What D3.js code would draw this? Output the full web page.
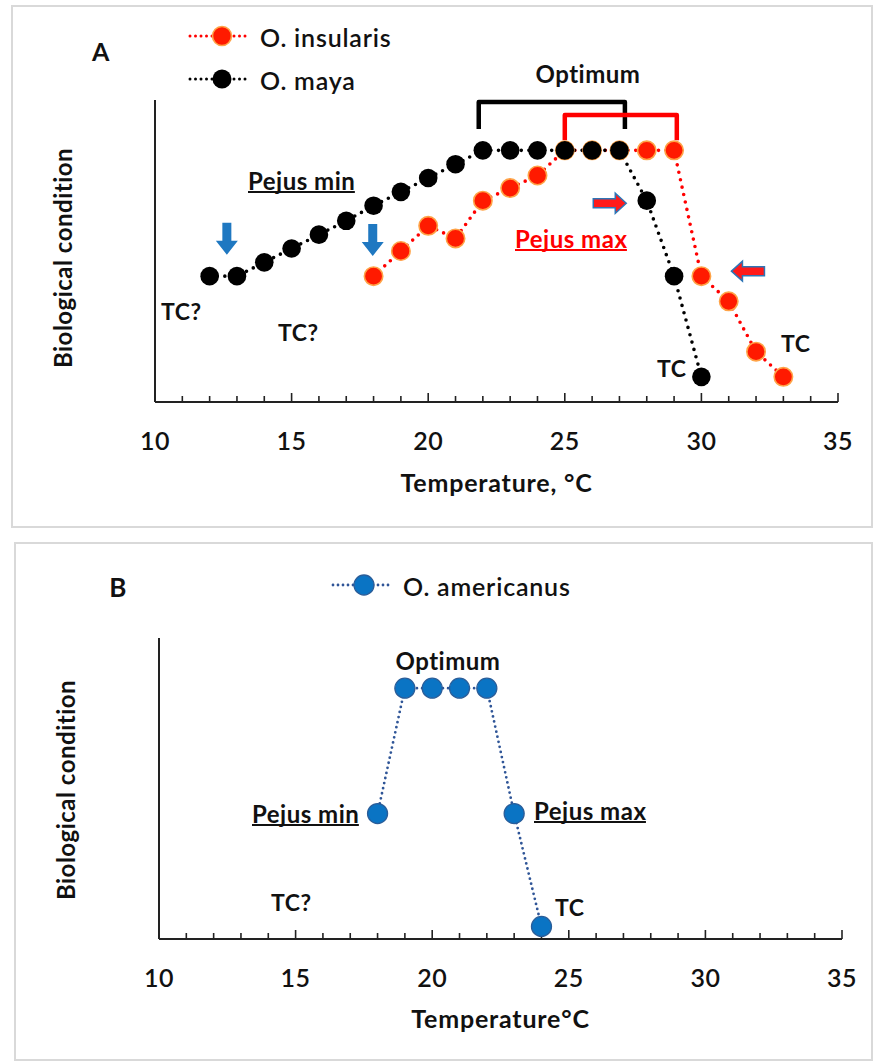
<!DOCTYPE html>
<html>
<head>
<meta charset="utf-8">
<script src="https://cdn.jsdelivr.net/npm/d3@7"></script>
<style>
  html, body { margin: 0; padding: 0; background: #fff; }
  svg { display: block; }
  text { font-family: Lato, "Open Sans", sans-serif; fill: #111; letter-spacing: 0.5px; }
</style>
</head>
<body>
<svg id="fig" width="874" height="1062"></svg>
<script>
// ---- Panel A: O. insularis and O. maya ----
const mayaTemp = [12, 13, 14, 15, 16, 17, 18, 19, 20, 21, 22, 23, 24, 25, 26, 27, 28, 29, 30];
const mayaCond = [5, 5, 5.55, 6.1, 6.65, 7.2, 7.8, 8.35, 8.9, 9.45, 10, 10, 10, 10, 10, 10, 8, 5, 1];

const insTemp = [18, 19, 20, 21, 22, 23, 24, 25, 26, 27, 28, 29, 30, 31, 32, 33];
const insCond = [5, 6, 7, 6.5, 8, 8.5, 9, 10, 10, 10, 10, 10, 5, 4, 2, 1];

// ---- Panel B: O. americanus ----
const amerTemp = [18, 19, 20, 21, 22, 23, 24];
const amerCond = [5, 10, 10, 10, 10, 5, 0.5];

// Shared axis settings
const xTickLabels = [10, 15, 20, 25, 30, 35];
const xMinorTicks = [10, 11, 12, 13, 14, 15, 16, 17, 18, 19, 20, 21, 22, 23, 24, 25, 26, 27, 28, 29, 30, 31, 32, 33, 34, 35];
const xDomain = [10, 35];
const yDomain = [0, 12];

// Optimum brackets in panel A: [start temp, end temp, top level, foot level]
const bracketMaya = [21.85, 27.2, 11.92, 10.85];
const bracketIns = [25.0, 29.1, 11.4, 10.4];

// Arrow markers in panel A: tip temperature and level
const downArrows = [[12.63, 5.85], [17.97, 5.8]];
const rightArrow = [27.25, 7.9];
const leftArrow = [31.1, 5.2];

const svg = d3.select("#fig");

const BLUE_ARROW = "#1f78c1";

// Soft edge for the black markers
const defs = svg.append("defs");
defs.append("filter").attr("id", "soft")
  .attr("x", "-30%").attr("y", "-30%").attr("width", "160%").attr("height", "160%")
  .append("feGaussianBlur").attr("stdDeviation", 0.7);

function frame(x, y, w, h) {
  svg.append("rect")
    .attr("x", x).attr("y", y).attr("width", w).attr("height", h)
    .attr("fill", "none").attr("stroke", "#d9d9d9").attr("stroke-width", 2);
}

function drawAxes(g, x, y, top, xTitle, titleOffset) {
  const [x0, x1] = x.range();
  const yb = y.range()[0];
  g.append("line").attr("x1", x0).attr("x2", x0).attr("y1", top).attr("y2", yb)
    .attr("stroke", "#222").attr("stroke-width", 2);
  g.append("line").attr("x1", x0).attr("x2", x1).attr("y1", yb).attr("y2", yb)
    .attr("stroke", "#222").attr("stroke-width", 2);
  g.selectAll("line.tick").data(xMinorTicks).join("line").attr("class", "tick")
    .attr("x1", d => x(d)).attr("x2", d => x(d))
    .attr("y1", yb).attr("y2", d => yb - (d % 5 === 0 ? 9 : 6))
    .attr("stroke", "#222").attr("stroke-width", 1.6);
  g.selectAll("text.tl").data(xTickLabels).join("text").attr("class", "tl")
    .attr("x", d => x(d)).attr("y", yb + 38)
    .attr("text-anchor", "middle").attr("dominant-baseline", "central")
    .attr("font-size", 25).attr("font-weight", 600)
    .text(d => d);
  g.append("text").attr("x", (x0 + x1) / 2).attr("y", yb + titleOffset)
    .attr("text-anchor", "middle").attr("dominant-baseline", "central")
    .attr("font-size", 25).attr("font-weight", 700).style("letter-spacing", "0.8px")
    .text(xTitle);
}

function yTitle(g, cx, cy) {
  g.append("text").attr("transform", `translate(${cx},${cy}) rotate(-90)`)
    .attr("text-anchor", "middle").attr("dominant-baseline", "central")
    .attr("font-size", 24).attr("font-weight", 700)
    .text("Biological condition");
}

function dotted(g, pts, color, width, gap) {
  g.append("path").datum(pts)
    .attr("d", d3.line())
    .attr("fill", "none").attr("stroke", color).attr("stroke-width", width)
    .attr("stroke-linecap", "round").attr("stroke-dasharray", `0 ${gap}`);
}

function label(g, x, y, txt, opts = {}) {
  const t = g.append("text").attr("x", x).attr("y", y)
    .attr("font-size", opts.size || 24).attr("font-weight", opts.weight || 700)
    .attr("text-anchor", opts.anchor || "start")
    .attr("dominant-baseline", "central")
    .style("fill", opts.color || "#111")
    .text(txt);
  if (opts.underline) {
    const bb = t.node().getBBox();
    g.append("line").attr("x1", bb.x).attr("x2", bb.x + bb.width - 0.5)
      .attr("y1", y + 12).attr("y2", y + 12)
      .attr("stroke", opts.color || "#111").attr("stroke-width", 1.8);
  }
  return t;
}

// ================= Panel A =================
frame(12, 6, 860, 521);
const gA = svg.append("g");
const xA = d3.scaleLinear().domain(xDomain).range([155, 838]);
const yA = d3.scaleLinear().domain(yDomain).range([402, 100]);

drawAxes(gA, xA, yA, 100, "Temperature, \u00B0C", 80);
yTitle(gA, 62, 258);

const mayaPts = mayaTemp.map((t, i) => [xA(t), yA(mayaCond[i])]);
const insPts = insTemp.map((t, i) => [xA(t), yA(insCond[i])]);

dotted(gA, insPts, "#ff0000", 3.6, 7.6);
dotted(gA, mayaPts, "#000", 3.6, 7.6);

// Optimum brackets
function bracket(g, b, color) {
  const [t0, t1, top, foot] = b;
  g.append("path")
    .attr("d", d3.line()([[xA(t0), yA(foot)], [xA(t0), yA(top)], [xA(t1), yA(top)], [xA(t1), yA(foot)]]))
    .attr("fill", "none").attr("stroke", color).attr("stroke-width", 4.5)
    .attr("stroke-linejoin", "round");
}
bracket(gA, bracketMaya, "#000");
bracket(gA, bracketIns, "#ff0000");

// red markers first, black markers on top where they share the plateau
gA.selectAll("circle.ins").data(insPts).join("circle").attr("class", "ins")
  .attr("cx", d => d[0]).attr("cy", d => d[1]).attr("r", 9.2)
  .attr("fill", "#ff1a00").attr("stroke", "#ffa347").attr("stroke-width", 1.6);
gA.selectAll("circle.maya").data(mayaPts).join("circle").attr("class", "maya")
  .attr("cx", d => d[0]).attr("cy", d => d[1]).attr("r", 9.3)
  .attr("fill", "#000").attr("filter", "url(#soft)");

// Blue downward arrows
downArrows.forEach(([t, v]) => {
  const cx = xA(t), tip = yA(v);
  const p = [[cx - 4.5, tip - 32], [cx + 4.5, tip - 32], [cx + 4.5, tip - 14], [cx + 11, tip - 14],
             [cx, tip], [cx - 11, tip - 14], [cx - 4.5, tip - 14]];
  gA.append("path").attr("d", d3.line()(p) + "Z").attr("fill", BLUE_ARROW);
});

// Red arrows with blue outline
function sideArrow(tipX, cy, dir) {
  const L = 33, head = 11, sh = 4.5, hh = 10;
  const p = [[tipX, cy], [tipX - dir * head, cy - hh], [tipX - dir * head, cy - sh],
             [tipX - dir * L, cy - sh], [tipX - dir * L, cy + sh], [tipX - dir * head, cy + sh],
             [tipX - dir * head, cy + hh]];
  gA.append("path").attr("d", d3.line()(p) + "Z")
    .attr("fill", "#ff1a1a").attr("stroke", "#2e75b6").attr("stroke-width", 1.5)
    .attr("stroke-linejoin", "miter");
}
sideArrow(xA(rightArrow[0]), yA(rightArrow[1]), 1);
sideArrow(xA(leftArrow[0]), yA(leftArrow[1]), -1);

// Annotations
label(gA, 101, 51, "A", { size: 25, anchor: "middle" });
label(gA, 588, 73, "Optimum", { size: 24, anchor: "middle" });
label(gA, 248, 180, "Pejus min", { size: 24, underline: true });
label(gA, 515, 238, "Pejus max", { size: 24, underline: true, color: "#ff0000" });
label(gA, 161, 311, "TC?", { size: 23 });
label(gA, 278, 332, "TC?", { size: 23 });
label(gA, 657, 368, "TC", { size: 23 });
label(gA, 781, 343, "TC", { size: 23 });

// Legend A
function legendItem(g, cx, cy, lineColor, fill, stroke, r, gap, width, txt) {
  g.append("line").attr("x1", cx - 32).attr("x2", cx + 25).attr("y1", cy).attr("y2", cy)
    .attr("stroke", lineColor).attr("stroke-width", width)
    .attr("stroke-linecap", "round").attr("stroke-dasharray", `0 ${gap}`);
  const c = g.append("circle").attr("cx", cx).attr("cy", cy).attr("r", r).attr("fill", fill);
  if (stroke) c.attr("stroke", stroke).attr("stroke-width", 1.6);
  else c.attr("filter", "url(#soft)");
  label(g, cx + 38, cy + 1, txt, { size: 25, weight: 600 }).style("letter-spacing", "0.8px");
}
legendItem(gA, 222, 36, "#ff0000", "#ff1a00", "#ffa347", 9.5, 5.5, 3, "O. insularis");
legendItem(gA, 222, 79, "#000", "#000", null, 9.5, 5.5, 3, "O. maya");

// ================= Panel B =================
frame(15, 543, 857, 517);
const gB = svg.append("g");
const xB = d3.scaleLinear().domain(xDomain).range([159, 842]);
const yB = d3.scaleLinear().domain(yDomain).range([939, 638]);

drawAxes(gB, xB, yB, 638, "Temperature\u00B0C", 79);
yTitle(gB, 65, 790);

const amerPts = amerTemp.map((t, i) => [xB(t), yB(amerCond[i])]);
dotted(gB, amerPts, "#2f5597", 2.8, 5.2);
gB.selectAll("circle.amer").data(amerPts).join("circle").attr("class", "amer")
  .attr("cx", d => d[0]).attr("cy", d => d[1]).attr("r", 10)
  .attr("fill", "#0a74c4").attr("stroke", "#2a5d99").attr("stroke-width", 1.3);

label(gB, 118, 587, "B", { size: 26, anchor: "middle" });
label(gB, 448, 660, "Optimum", { size: 24, anchor: "middle" });
label(gB, 252, 813, "Pejus min", { size: 24, underline: true });
label(gB, 534, 810, "Pejus max", { size: 24, underline: true });
label(gB, 271, 902, "TC?", { size: 23 });
label(gB, 555, 907, "TC", { size: 23 });

// Legend B
gB.append("line").attr("x1", 333).attr("x2", 391).attr("y1", 585).attr("y2", 585)
  .attr("stroke", "#2f5597").attr("stroke-width", 2.8)
  .attr("stroke-linecap", "round").attr("stroke-dasharray", "0 5");
gB.append("circle").attr("cx", 364).attr("cy", 585).attr("r", 10)
  .attr("fill", "#0a74c4").attr("stroke", "#2a5d99").attr("stroke-width", 1.3);
label(gB, 403, 586, "O. americanus", { size: 25, weight: 600 }).style("letter-spacing", "0.8px");
</script>
</body>
</html>
